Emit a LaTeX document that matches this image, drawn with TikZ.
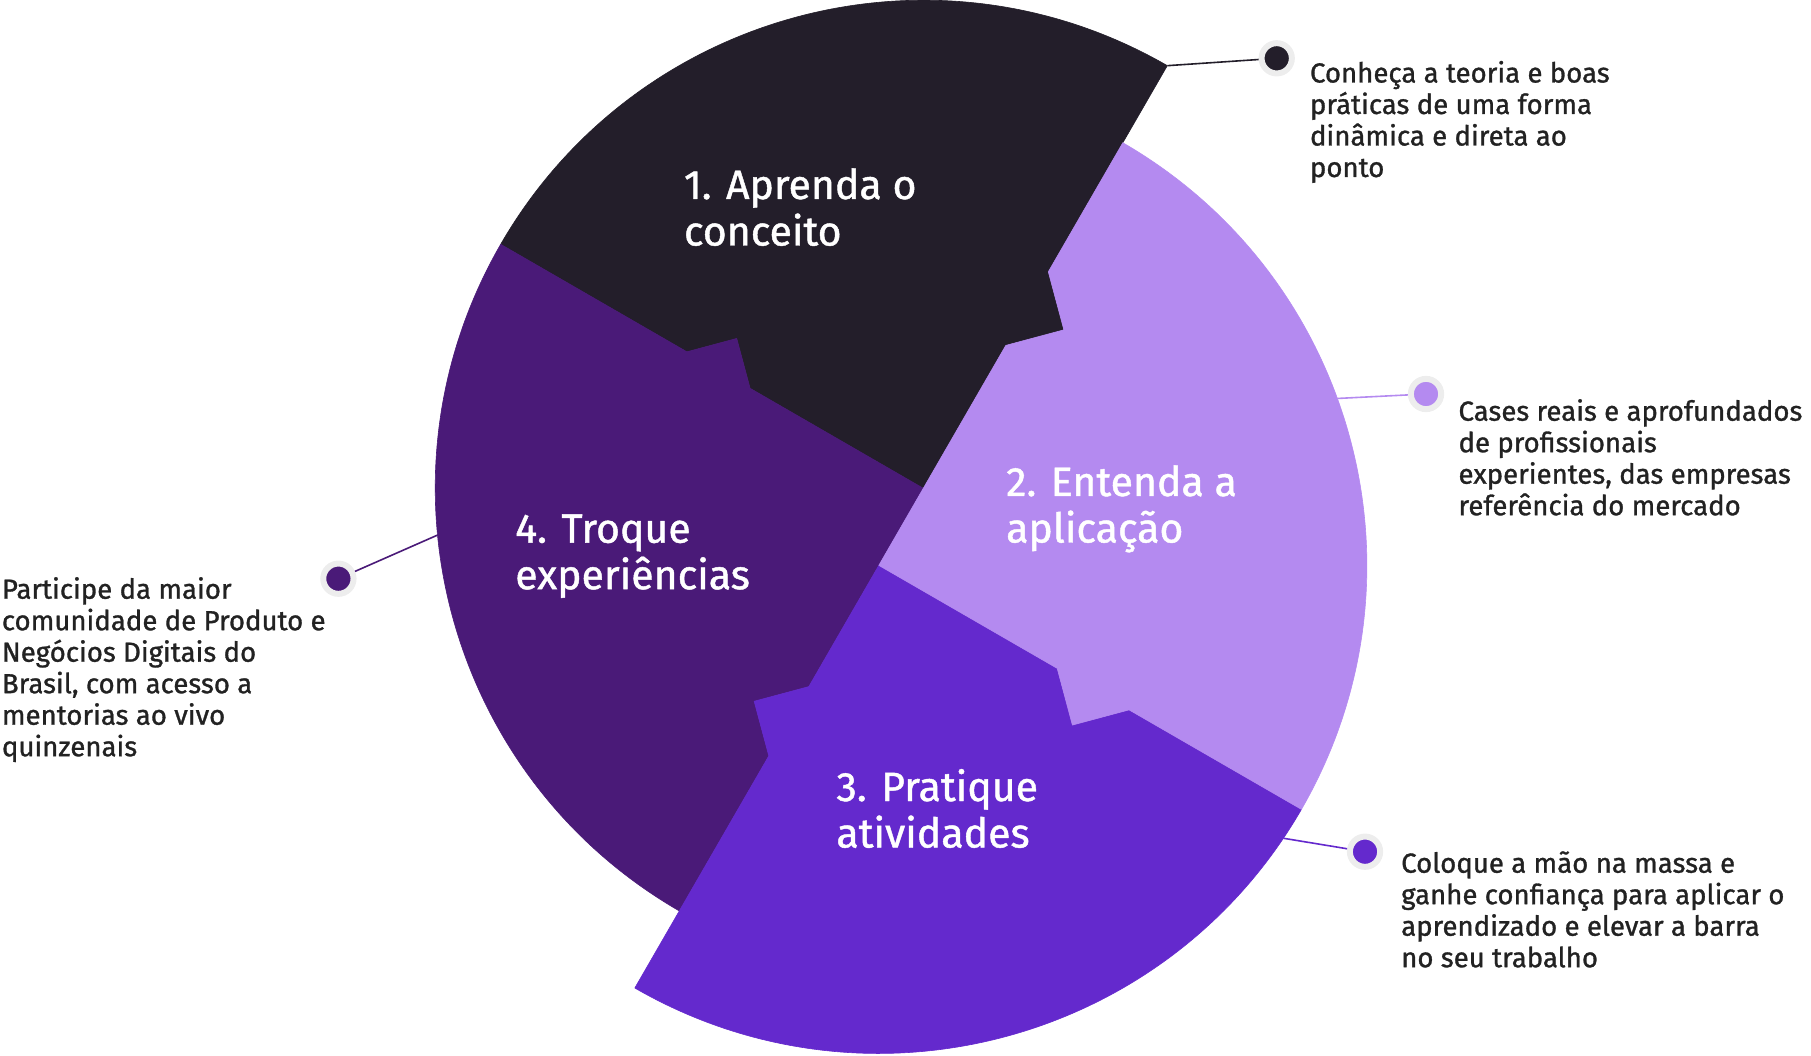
\documentclass[tikz,border=0pt]{standalone}
\usepackage{fontspec}
\setmainfont{Fira Sans}[FakeBold=1.1]
\usepackage{xcolor}
\usetikzlibrary{calc}

\definecolor{stepdark}{HTML}{231E2A}
\definecolor{steplav}{HTML}{B48AF0}
\definecolor{stepviolet}{HTML}{6429CD}
\definecolor{stepplum}{HTML}{4A1A78}
\definecolor{ringgray}{HTML}{EDEDED}
\definecolor{bodygray}{HTML}{222222}

\tikzset{
	piece/.style={fill=#1, draw=#1, line width=0.6pt, line join=round},
	heading/.style={anchor=base west, align=left, inner sep=0pt, text=white, font=\fontsize{41}{46.5}\selectfont},
	blurb/.style={anchor=base west, align=left, inner sep=0pt, text=bodygray, font=\fontsize{27.6}{31.5}\selectfont},
	pin/.style={circle, inner sep=0pt, minimum size=30.3pt, draw=ringgray, line width=6pt, fill=#1},
	lead/.style={draw=#1, line width=1.6pt},
}

\begin{document}
\begin{tikzpicture}[x=1pt, y=1pt]
	\useasboundingbox (0,0) rectangle (1811,1055);
	
	\coordinate (A) at (923.3,566.7);
	\coordinate (B) at ($(A)+(240:89)$);
	
	% 1. dark piece
	\path[piece=stepdark] (A) -- ($(A)+(60:165)$) -- ($(A)+(60:207.5)+(-30:42.5)$) -- ($(A)+(60:250)$)
		-- ($(A)+(60:488)$) arc[start angle=60, end angle=150, radius=488]
		-- ($(A)+(150:273)$) -- ($(A)+(150:236.5)+(60:36.5)$) -- ($(A)+(150:200)$) -- cycle;
	% 4. plum piece
	\path[piece=stepplum] (A) -- ($(A)+(150:200)$) -- ($(A)+(150:236.5)+(60:36.5)$) -- ($(A)+(150:273)$)
		-- ($(A)+(150:488)$) arc[start angle=150, end angle=240, radius=488]
		-- ($(B)+(240:220)$) -- ($(B)+(240:180)+(150:40)$) -- ($(B)+(240:140)$) -- cycle;
	% 3. violet piece
	\path[piece=stepviolet] (B) -- ($(B)+(240:140)$) -- ($(B)+(240:180)+(150:40)$) -- ($(B)+(240:220)$)
		-- ($(B)+(240:488)$) arc[start angle=240, end angle=330, radius=488]
		-- ($(B)+(-30:289)$) -- ($(B)+(-30:247.5)+(240:41.5)$) -- ($(B)+(-30:206)$) -- cycle;
	% 2. lavender piece
	\path[piece=steplav] (B) -- ($(B)+(-30:206)$) -- ($(B)+(-30:247.5)+(240:41.5)$) -- ($(B)+(-30:289)$)
		-- ($(B)+(-30:488)$) arc[start angle=-30, end angle=60, radius=488]
		-- ($(A)+(60:250)$) -- ($(A)+(60:207.5)+(-30:42.5)$) -- ($(A)+(60:165)$) -- (A) -- cycle;
	
	% base = last line
	\node[heading] (h1) at (683.8,809.5) {1. Aprenda o\\conceito};
	\node[heading] (h2) at (1006,512.5) {2. Entenda a\\aplicação};
	\node[heading] (h3) at (836.2,207.5) {3. Pratique\\atividades};
	\node[heading] (h4) at (515.1,465.8) {4. Troque\\experiências};
	
	\coordinate (e1) at ($(A)+(60:488)$);
	\coordinate (e2) at ($(B)+(20:488)$);
	\coordinate (e3) at ($(B)+(-34:488)$);
	\coordinate (e4) at ($(A)+(185.5:488)$);
	
	\node[pin=stepdark] (d1) at (1276.7,996.7) {};
	\node[pin=steplav] (d2) at (1426,661) {};
	\node[pin=stepviolet] (d3) at (1365,203.3) {};
	\node[pin=stepplum] (d4) at (338.4,476.3) {};
	
	\draw[lead=stepdark] (e1) -- (d1);
	\draw[lead=steplav] (e2) -- (d2);
	\draw[lead=stepviolet] (e3) -- (d3);
	\draw[lead=stepplum] (e4) -- (d4);
	
	\node[blurb] (b1) at (1309.8,878) {Conheça a teoria e boas\\práticas de uma forma\\dinâmica e direta ao\\ponto};
	\node[blurb] (b2) at (1458.3,539.8) {Cases reais e aprofundados\\de profissionais\\experientes, das empresas\\referência do mercado};
	\node[blurb] (b3) at (1401,87.8) {Coloque a mão na massa e\\ganhe confiança para aplicar o\\aprendizado e elevar a barra\\no seu trabalho};
	\node[blurb] (b4) at (1.7,298.8) {Participe da maior\\comunidade de Produto e\\Negócios Digitais do\\Brasil, com acesso a\\mentorias ao vivo\\quinzenais};
\end{tikzpicture}
\end{document}
